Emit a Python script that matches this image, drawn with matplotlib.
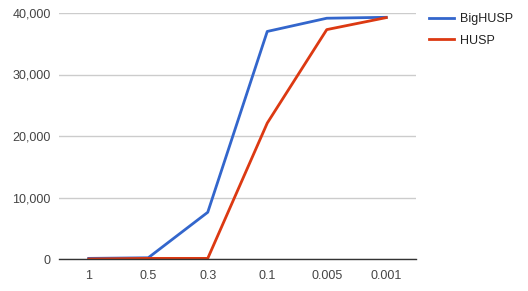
import matplotlib.pyplot as plt
from matplotlib.ticker import FuncFormatter

plt.rcParams['font.family'] = ['Liberation Sans', 'DejaVu Sans']

# data
thresholds = ['1', '0.5', '0.3', '0.1', '0.005', '0.001']
bighusp = [100, 200, 7600, 37000, 39150, 39300]
husp = [0, 100, 100, 22100, 37300, 39250]

W, H = 528, 291
fig = plt.figure(figsize=(W / 100, H / 100), dpi=100)
ax = fig.add_axes([59 / W, 1 - 259 / H, (416 - 59) / W, (259 - 13) / H])

x = range(len(thresholds))
ax.plot(x, bighusp, color='#3366cc', lw=2, label='BigHUSP', solid_joinstyle='round')
ax.plot(x, husp, color='#dc3912', lw=2, label='HUSP', solid_joinstyle='round')

ax.set_xlim(-0.5, len(thresholds) - 0.5)
ax.set_ylim(0, 40000)
ax.set_xticks(list(x))
ax.set_xticklabels(thresholds)
ax.set_yticks([0, 10000, 20000, 30000, 40000])
ax.yaxis.set_major_formatter(FuncFormatter(lambda v, p: f'{int(v):,}'))

ax.grid(axis='y', color='#cccccc', lw=1)
ax.set_axisbelow(True)
for s in ['top', 'right', 'left']:
    ax.spines[s].set_visible(False)
ax.spines['bottom'].set_color('#333333')
ax.spines['bottom'].set_linewidth(1)
ax.tick_params(length=0, labelsize=9, labelcolor='#444444')
ax.tick_params(axis='y', pad=6)
ax.tick_params(axis='x', pad=8)

ax.legend(loc='upper left', bbox_to_anchor=(1.005, 1.045), frameon=False,
          fontsize=9, handlelength=2.0, handletextpad=0.5, labelspacing=0.75,
          labelcolor='#222222')

fig.savefig('out.png', dpi=100)
